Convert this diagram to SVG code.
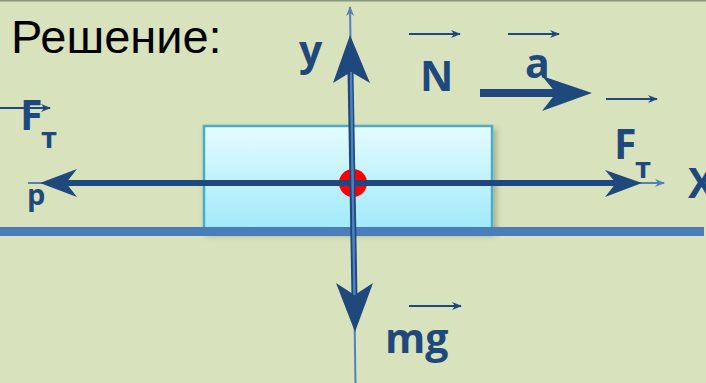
<svg xmlns="http://www.w3.org/2000/svg" width="706" height="383" viewBox="0 0 706 383">
<defs>
<style>
.lbl{font-family:"Open Sans","DejaVu Sans",sans-serif;font-weight:700;fill:#1f497d}
.big{font-size:41px}
.sub{font-size:29px}
.vec{stroke:#1f497d;stroke-width:2;fill:none;marker-end:url(#vhead)}
.thin{stroke:#4f81bd;stroke-width:2;fill:none}
.thick{stroke:#1f497d;stroke-width:6;fill:none}
.head{fill:#1f497d}
</style>
<linearGradient id="boxg" x1="0" y1="0" x2="0" y2="1">
<stop offset="0" stop-color="#e4fcff"/>
<stop offset="1" stop-color="#a0e9fb"/>
</linearGradient>
<marker id="vhead" viewBox="0 0 10 10" refX="9" refY="5" markerWidth="10" markerHeight="10" markerUnits="userSpaceOnUse" orient="auto">
<path d="M0,1 L10,5 L0,9 L3,5 Z" fill="#1f497d"/>
</marker>
<marker id="lhead" viewBox="0 0 10 10" refX="9" refY="5" markerWidth="10" markerHeight="10" markerUnits="userSpaceOnUse" orient="auto">
<path d="M0,1 L10,5 L0,9 L3,5 Z" fill="#4f81bd"/>
</marker>
<filter id="sh" x="-10%" y="-10%" width="130%" height="140%">
<feDropShadow dx="3" dy="4" stdDeviation="3" flood-color="#000" flood-opacity="0.25"/>
</filter>
</defs>
<rect x="0" y="0" width="706" height="383" fill="#d8e3bd"/>
<line x1="0" y1="0.5" x2="706" y2="0.5" stroke="#8a967e" stroke-width="2"/>
<g id="title"><text x="11" y="53" font-family="Liberation Sans, Arial, sans-serif" font-size="47" fill="#000">Решение:</text></g>
<g id="box"><rect x="204" y="126" width="288" height="104" fill="url(#boxg)" stroke="#4bacc6" stroke-width="2.5" filter="url(#sh)"/></g>
<g id="ground"><rect x="0" y="227" width="704" height="9" fill="#4a7ebb"/></g>
<g id="dot"><circle cx="353" cy="183" r="14" fill="#ff0000"/></g>
<g id="connectors">
<line class="thin" x1="28" y1="183" x2="664" y2="183" marker-end="url(#lhead)"/>
<line class="thick" x1="60" y1="183" x2="625" y2="183"/>
<path class="head" d="M40,183 L77,169 L66,183 L77,197 Z"/>
<path class="head" d="M642,183 L605,170 L616,183 L605,197 Z"/>
<line class="thick" x1="350.3" y1="60" x2="354.7" y2="310"/>
<line class="thin" x1="355.5" y1="383" x2="350" y2="7" marker-end="url(#lhead)"/>
<path class="head" d="M350,35 L370,83 L351,72 L333,83 Z"/>
<path class="head" d="M355,332 L336,283 L354.6,295 L373,283 Z"/>
<line class="thin" x1="351" y1="72" x2="354.5" y2="295"/>
<line x1="480" y1="93" x2="565" y2="93" stroke="#1f497d" stroke-width="8"/>
<path class="head" d="M592,93 L542,76 L556,93 L542,111 Z"/>
<line class="vec" x1="409" y1="34" x2="460" y2="34"/>
<line class="vec" x1="508" y1="34" x2="559" y2="34"/>
<line class="vec" x1="606" y1="99" x2="657" y2="99"/>
<line class="vec" x1="409" y1="306" x2="461" y2="306"/>
<line class="vec" x1="0" y1="108" x2="50" y2="108"/>
</g>
<g id="label-y"><text class="lbl big" x="299" y="65">y</text></g>
<g id="label-N"><text class="lbl big" x="420" y="91">N</text></g>
<g id="label-a"><text class="lbl big" x="525" y="78">a</text></g>
<g id="label-Ft"><text class="lbl big" x="614" y="159">F</text><text class="lbl sub" x="635" y="178">т</text></g>
<g id="label-Ftr"><text class="lbl big" x="20" y="130">F</text><text class="lbl sub" x="41" y="148">т</text><text class="lbl sub" x="27" y="205">р</text></g>
<g id="label-x"><text class="lbl big" x="688" y="198">X</text></g>
<g id="label-mg"><text class="lbl big" x="385" y="353">mg</text></g>
</svg>
